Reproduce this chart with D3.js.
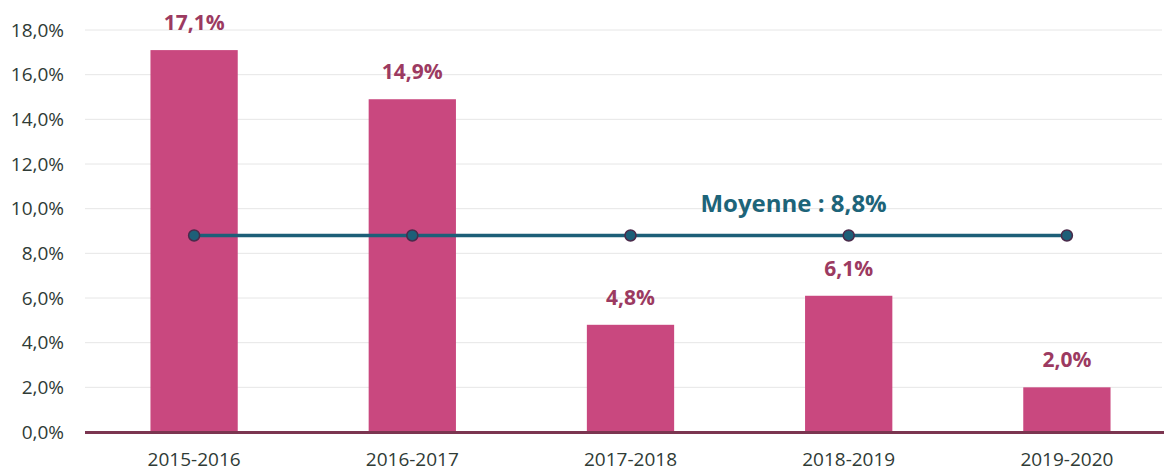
<!DOCTYPE html>
<html><head><meta charset="utf-8">
<script src="https://cdn.jsdelivr.net/npm/d3@7"></script>
<style>body{margin:0;background:#fff}svg{display:block}</style>
</head><body>
<svg id="c" width="1164" height="473"></svg>
<script>
const categories = ["2015-2016","2016-2017","2017-2018","2018-2019","2019-2020"];
const values = [17.1, 14.9, 4.8, 6.1, 2.0];
const valueLabels = ["17,1%","14,9%","4,8%","6,1%","2,0%"];
const meanValue = 8.8;
const meanLabel = "Moyenne : 8,8%";
const yTicks = [0,2,4,6,8,10,12,14,16,18];

const svg = d3.select("#c");
const pLeft = 85, pRight = 1176, pTop = 30, pBottom = 432;
const x = d3.scaleBand().domain(categories).range([pLeft, pRight]).padding(0);
const y = d3.scaleLinear().domain([0, 18]).range([pBottom, pTop]);
const fmt = d => d.toFixed(1).replace(".", ",") + "%";

// gridlines
svg.append("g").selectAll("line").data(yTicks.filter(d=>d>0)).join("line")
  .attr("x1", pLeft).attr("x2", 1162)
  .attr("y1", d=>y(d)).attr("y2", d=>y(d))
  .attr("stroke", "#e6e6e6").attr("stroke-width", 1);

// y axis labels
const yAxis = d3.axisLeft(y).tickValues(yTicks).tickFormat(fmt).tickSize(0).tickPadding(0);
const ya = svg.append("g").attr("transform", `translate(64,0)`).call(yAxis);
ya.select(".domain").remove();
ya.selectAll("text").attr("font-family", "Open Sans, sans-serif").attr("font-size", 19).attr("fill", "#2f3b36");

// bars
const bw = x.bandwidth() * 0.4;
svg.append("g").selectAll("rect").data(values).join("rect")
  .attr("x", (d,i)=>x(categories[i]) + x.bandwidth()/2 - bw/2)
  .attr("width", bw)
  .attr("y", d=>y(d)).attr("height", d=>y(0)-y(d))
  .attr("fill", "#c9487f");

// baseline
svg.append("line").attr("x1", pLeft).attr("x2", 1164).attr("y1", y(0)+0.5).attr("y2", y(0)+0.5)
  .attr("stroke", "#7b3550").attr("stroke-width", 3);

// x axis labels
const xAxis = d3.axisBottom(x).tickSize(0).tickPadding(0);
const xa = svg.append("g").attr("transform", `translate(0,${pBottom})`).call(xAxis);
xa.select(".domain").remove();
xa.selectAll("text").attr("dy", null).attr("y", 34).attr("font-family", "Open Sans, sans-serif").attr("font-size", 19).attr("fill", "#2f3b36");

// value labels
svg.append("g").selectAll("text").data(values).join("text")
  .attr("x", (d,i)=>x(categories[i]) + x.bandwidth()/2)
  .attr("y", d=>y(d) - 20)
  .attr("text-anchor", "middle")
  .attr("font-family", "Open Sans, sans-serif").attr("font-weight", "bold").attr("font-size", 21)
  .attr("fill", "#9c3a61")
  .text((d,i)=>valueLabels[i]);

// mean line
const cx = categories.map(c=>x(c)+x.bandwidth()/2);
svg.append("line").attr("x1", cx[0]).attr("x2", cx[cx.length-1])
  .attr("y1", y(meanValue)).attr("y2", y(meanValue))
  .attr("stroke", "#1d5f78").attr("stroke-width", 3.5);
svg.append("g").selectAll("circle").data(categories).join("circle")
  .attr("cx", c=>x(c)+x.bandwidth()/2).attr("cy", y(meanValue)).attr("r", 5.5)
  .attr("fill", "#1d5f78").attr("stroke", "#4a2a4a").attr("stroke-width", 1.5);

svg.append("text").attr("x", (cx[2]+cx[3])/2 + 54).attr("y", y(meanValue) - 23)
  .attr("text-anchor", "middle")
  .attr("font-family", "Open Sans, sans-serif").attr("font-weight", "bold").attr("font-size", 24)
  .attr("fill", "#1d6479").text(meanLabel);
</script>
</body></html>
